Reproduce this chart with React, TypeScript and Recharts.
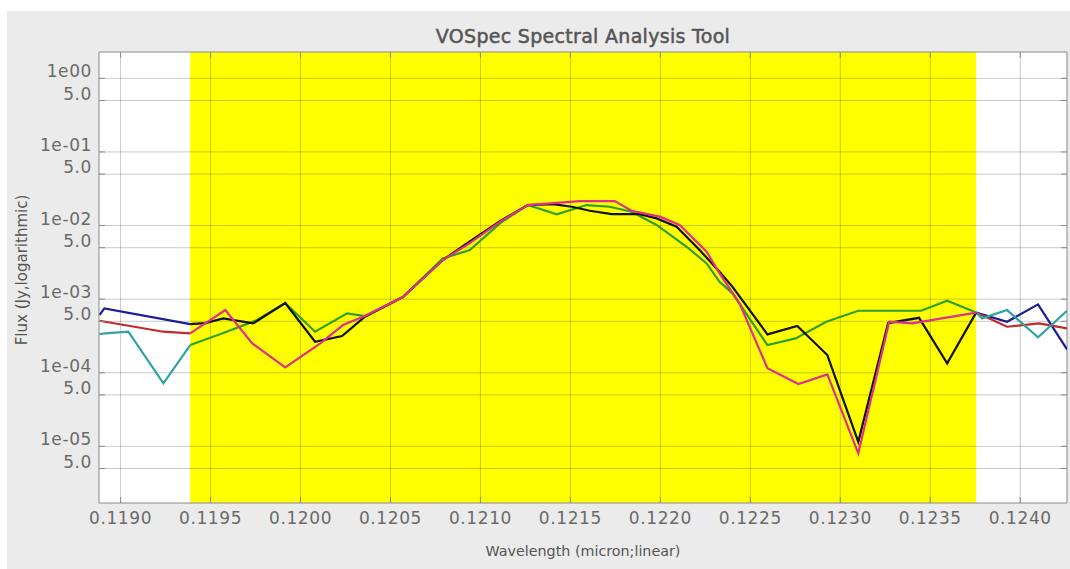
import { LineChart, Line, XAxis, YAxis, ReferenceArea, ReferenceLine } from "recharts";

// spectrum A: navy outside the selection, black inside
const WAVE_A = [
  0.118882, 0.11891, 0.119387, 0.119471, 0.119571, 0.119737, 0.119915, 0.120081, 0.120231,
  0.120358, 0.120569, 0.120791, 0.120941, 0.121108, 0.121263, 0.121402, 0.121508, 0.121608,
  0.121729, 0.121885, 0.121979, 0.12209, 0.122218, 0.122329, 0.122401, 0.122595, 0.122761,
  0.122928, 0.1231, 0.123266, 0.123438, 0.123594, 0.123755, 0.123927, 0.124099, 0.12426,
];
const FLUX_A = [
  6.08e-4, 7.5e-4, 4.59e-4, 4.73e-4, 5.48e-4, 4.69e-4, 8.85e-4, 2.64e-4, 3.15e-4,
  5.77e-4, 1.07e-3, 3.4e-3, 6.1e-3, 1.15e-2, 1.9e-2, 1.96e-2, 1.8e-2, 1.59e-2,
  1.43e-2, 1.43e-2, 1.25e-2, 9.63e-3, 4.65e-3, 2.36e-3, 1.47e-3, 3.32e-4, 4.31e-4,
  1.74e-4, 1.15e-5, 4.73e-4, 5.58e-4, 1.34e-4, 6.57e-4, 4.93e-4, 8.5e-4, 2.08e-4,
];

// spectrum B: red outside, magenta inside
const WAVE_B = [
  0.118882, 0.119238, 0.119387, 0.119582, 0.119732, 0.119915, 0.12011, 0.120236, 0.120358,
  0.120569, 0.120791, 0.120941, 0.121108, 0.121263, 0.121385, 0.121552, 0.121746, 0.12184,
  0.121996, 0.122107, 0.122257, 0.122329, 0.12244, 0.122595, 0.122767, 0.122928, 0.1231,
  0.123272, 0.123399, 0.123755, 0.123927, 0.124104, 0.12426,
];
const FLUX_B = [
  5.09e-4, 3.61e-4, 3.43e-4, 7.11e-4, 2.51e-4, 1.18e-4, 2.51e-4, 4.45e-4, 5.89e-4,
  1.07e-3, 3.4e-3, 5.78e-3, 1.12e-2, 1.9e-2, 2.0e-2, 2.15e-2, 2.15e-2, 1.59e-2,
  1.32e-2, 1.02e-2, 4.41e-3, 2.24e-3, 8.77e-4, 1.15e-4, 7.02e-5, 9.51e-5, 8.03e-6,
  4.93e-4, 4.69e-4, 6.57e-4, 4.22e-4, 4.69e-4, 4.01e-4,
];

// spectrum C: teal outside, green inside
const WAVE_C = [
  0.118882, 0.118932, 0.119043, 0.119238, 0.119387, 0.119571, 0.119759, 0.119915, 0.120081,
  0.120259, 0.120358, 0.120569, 0.120791, 0.120941, 0.121108, 0.121263, 0.121424, 0.12159,
  0.121718, 0.12184, 0.121979, 0.122146, 0.122257, 0.122329, 0.122401, 0.122595, 0.122752,
  0.122922, 0.1231, 0.123449, 0.123594, 0.123755, 0.123788, 0.123927, 0.124099, 0.12426,
];
const FLUX_C = [
  3.36e-4, 3.46e-4, 3.61e-4, 7.18e-5, 2.38e-4, 3.46e-4, 5.2e-4, 8.85e-4, 3.61e-4,
  6.41e-4, 5.89e-4, 1.07e-3, 3.58e-3, 4.65e-3, 1.07e-2, 1.9e-2, 1.42e-2, 1.9e-2,
  1.8e-2, 1.54e-2, 1.02e-2, 5.15e-3, 3.06e-3, 1.72e-3, 1.2e-3, 2.38e-4, 2.93e-4,
  4.93e-4, 6.96e-4, 6.96e-4, 9.51e-4, 6.57e-4, 5.48e-4, 7.11e-4, 3.03e-4, 6.96e-4,
];

const BAND_START = 0.119387;
const BAND_END = 0.123755;

const X_TICKS = [0.119, 0.1195, 0.12, 0.1205, 0.121, 0.1215, 0.122, 0.1225, 0.123, 0.1235, 0.124];
const X_TICK_LABELS = [
  "0.1190", "0.1195", "0.1200", "0.1205", "0.1210", "0.1215",
  "0.1220", "0.1225", "0.1230", "0.1235", "0.1240",
];
const Y_TICKS = [1, 0.5, 0.1, 0.05, 0.01, 0.005, 0.001, 0.0005, 1e-4, 5e-5, 1e-5, 5e-6];
const Y_TICK_LABELS = [
  "1e00", "5.0", "1e-01", "5.0", "1e-02", "5.0",
  "1e-03", "5.0", "1e-04", "5.0", "1e-05", "5.0",
];

const X_MIN = 0.11888;
const X_MAX = 0.12426;
const Y_MIN = 1.7e-6;
const Y_MAX = 2.28;

// plot box inside the chart svg
const PLOT_LEFT = 92;
const PLOT_TOP = 41;
const PLOT_RIGHT = 1060;
const PLOT_BOTTOM = 492;

const FONT = "'DejaVu Sans', sans-serif";
const TEXT_GREY = "#6a6a6a";
const FRAME = "#8a8a8a";

const split = (waves: number[], flux: number[]) => {
  const pts = waves.map((w, i) => ({ w, f: flux[i] as number | null }));
  const inside = pts.filter((p) => p.w >= BAND_START && p.w <= BAND_END);
  const outside = [
    ...pts.filter((p) => p.w <= BAND_START),
    { w: (BAND_START + BAND_END) / 2, f: null },
    ...pts.filter((p) => p.w >= BAND_END),
  ];
  return { inside, outside };
};

const specA = split(WAVE_A, FLUX_A);
const specB = split(WAVE_B, FLUX_B);
const specC = split(WAVE_C, FLUX_C);

const lookup = (ticks: number[], labels: string[], v: number) => {
  const i = ticks.findIndex((t) => Math.abs(t - v) < t * 1e-6);
  return i >= 0 ? labels[i] : "";
};

const XTick = (props: any) => {
  const { x, payload } = props;
  return (
    <g>
      <line x1={x} x2={x} y1={PLOT_BOTTOM} y2={PLOT_BOTTOM - 6} stroke={FRAME} />
      <line x1={x} x2={x} y1={PLOT_TOP} y2={PLOT_TOP + 6} stroke={FRAME} />
      <text
        x={x}
        y={PLOT_BOTTOM + 21}
        textAnchor="middle"
        fontSize={17}
        fontFamily={FONT}
        fill={TEXT_GREY}
        letterSpacing={0.6}
      >
        {lookup(X_TICKS, X_TICK_LABELS, payload.value)}
      </text>
    </g>
  );
};

const YTick = (props: any) => {
  const { y, payload } = props;
  return (
    <g>
      <line x1={PLOT_LEFT} x2={PLOT_LEFT + 6} y1={y} y2={y} stroke={FRAME} />
      <line x1={PLOT_RIGHT - 6} x2={PLOT_RIGHT} y1={y} y2={y} stroke={FRAME} />
      <text
        x={PLOT_LEFT - 7}
        y={y - 1}
        textAnchor="end"
        fontSize={17}
        fontFamily={FONT}
        fill={TEXT_GREY}
        letterSpacing={0.6}
      >
        {lookup(Y_TICKS, Y_TICK_LABELS, payload.value)}
      </text>
    </g>
  );
};

const lineProps = {
  type: "linear" as const,
  dataKey: "f",
  dot: false,
  activeDot: false,
  strokeWidth: 2.2,
  isAnimationActive: false,
};

const App = () => {
  return (
    <div
      style={{
        position: "absolute",
        left: 7,
        top: 11,
        width: 1063,
        height: 558,
        background: "#ebebeb",
        fontFamily: FONT,
      }}
    >
      <div
        style={{
          position: "absolute",
          left: PLOT_LEFT,
          width: PLOT_RIGHT - PLOT_LEFT,
          top: 14,
          textAlign: "center",
          fontSize: 19,
          color: "#555",
          lineHeight: "22px",
          WebkitTextStroke: "0.5px #555",
          letterSpacing: 0.3,
        }}
      >
        VOSpec Spectral Analysis Tool
      </div>
      <LineChart
        width={1063}
        height={558}
        margin={{ top: PLOT_TOP, right: 3, left: 0, bottom: 26 }}
      >
        <XAxis
          type="number"
          dataKey="w"
          domain={[X_MIN, X_MAX]}
          ticks={X_TICKS}
          interval={0}
          allowDataOverflow
          height={40}
          tickLine={false}
          axisLine={{ stroke: FRAME }}
          tick={XTick}
        />
        <YAxis
          type="number"
          scale="log"
          domain={[Y_MIN, Y_MAX]}
          ticks={Y_TICKS}
          interval={0}
          allowDataOverflow
          width={92}
          tickLine={false}
          axisLine={{ stroke: FRAME }}
          tick={YTick}
        />
        <ReferenceArea
          x1={X_MIN}
          x2={X_MAX}
          fill="#ffffff"
          fillOpacity={1}
          stroke="none"
          ifOverflow="hidden"
        />
        <ReferenceArea
          x1={BAND_START}
          x2={BAND_END}
          fill="#ffff00"
          fillOpacity={1}
          stroke="none"
          ifOverflow="hidden"
        />
        {X_TICKS.map((t) => (
          <ReferenceLine key={"gx" + t} x={t} stroke="#000" strokeOpacity={0.21} />
        ))}
        {Y_TICKS.map((t) => (
          <ReferenceLine key={"gy" + t} y={t} stroke="#000" strokeOpacity={0.21} />
        ))}
        <ReferenceLine x={X_MAX} stroke={FRAME} />
        <ReferenceLine y={Y_MAX} stroke={FRAME} />
        <Line {...lineProps} data={specA.outside} stroke="#1c1c96" />
        <Line {...lineProps} data={specB.outside} stroke="#c02a2a" />
        <Line {...lineProps} data={specC.outside} stroke="#2ea3a3" />
        <Line {...lineProps} data={specC.inside} stroke="#2f9f22" />
        <Line {...lineProps} data={specA.inside} stroke="#111111" />
        <Line {...lineProps} data={specB.inside} stroke="#e0308f" />
      </LineChart>
      <div
        style={{
          position: "absolute",
          left: PLOT_LEFT,
          width: PLOT_RIGHT - PLOT_LEFT,
          top: 532,
          textAlign: "center",
          fontSize: 14.3,
          color: "#555",
        }}
      >
        Wavelength (micron;linear)
      </div>
      <div
        style={{
          position: "absolute",
          left: 15,
          top: 259,
          width: 0,
          height: 0,
        }}
      >
        <div
          style={{
            position: "absolute",
            transform: "translate(-50%, -50%) rotate(-90deg)",
            whiteSpace: "nowrap",
            fontSize: 15,
            color: "#555",
          }}
        >
          Flux (Jy,logarithmic)
        </div>
      </div>
    </div>
  );
};

export default App;
